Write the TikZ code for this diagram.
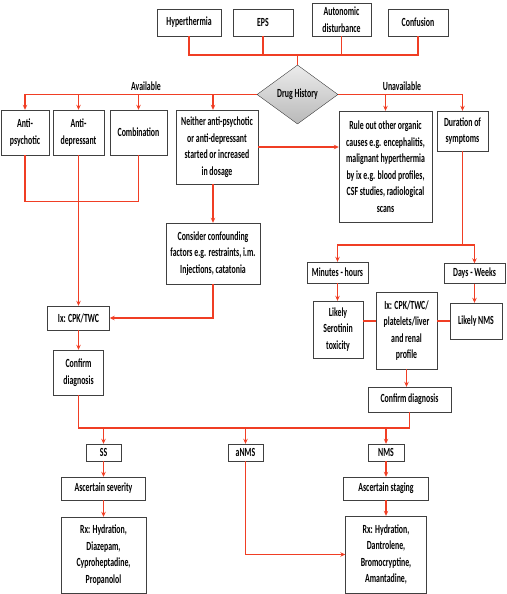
\documentclass[tikz,border=0pt]{standalone}
\usepackage{fontspec}
\setmainfont{Carlito}[FakeStretch=0.63]
\usetikzlibrary{shapes.geometric,arrows.meta}
\definecolor{flowred}{RGB}{240,62,36}

\begin{document}
\begin{tikzpicture}[x=1pt,y=-1pt,
  box/.style={draw=black!75,fill=white,align=center,inner sep=1pt,
    font=\bfseries\fontsize{12.4}{16.5}\selectfont},
  link/.style={draw=flowred,line width=1.4pt},
  arr/.style={link,-{Stealth[length=5pt,width=4.5pt]}}]
\useasboundingbox (0,0) rectangle (506,594);

% symptoms
\node [box,minimum width=64pt,minimum height=27pt] (hyper) at (189,22.5) {Hyperthermia};
\node [box,minimum width=60pt,minimum height=27pt] (eps) at (263,22.5) {EPS};
\node [box,minimum width=59pt,minimum height=33pt] (auto) at (341.5,19.5) {Autonomic\\disturbance};
\node [box,minimum width=60pt,minimum height=27pt] (conf) at (418,22.5) {Confusion};

\node [diamond,draw=black!75,top color=gray!15,bottom color=gray!55,aspect=1.37,
  minimum width=81pt,minimum height=59pt,inner sep=0pt,
  font=\bfseries\fontsize{12.4}{16.5}\selectfont] (drug) at (297.5,94.5) {Drug History};

% available
\node [box,minimum width=48pt,minimum height=45pt] (antipsy) at (25,132.5) {Anti-\\psychotic};
\node [box,minimum width=51pt,minimum height=45pt] (antidep) at (78.5,132.5) {Anti-\\depressant};
\node [box,minimum width=57pt,minimum height=45pt] (comb) at (138.5,132.5) {Combination};
\node [box,minimum width=82pt,minimum height=74pt] (neither) at (217,147) {Neither anti-psychotic\\or anti-depressant\\started or increased\\in dosage};
\node [box,minimum width=94pt,minimum height=61pt] (consider) at (213,253.5) {Consider confounding\\factors e.g. restraints, i.m.\\Injections, catatonia};
\node [box,minimum width=62pt,minimum height=24pt] (ixL) at (78.5,318) {Ix: CPK/TWC};
\node [box,minimum width=50pt,minimum height=45pt] (confL) at (78.5,372.5) {Confirm\\diagnosis};

% unavailable
\node [box,minimum width=93pt,minimum height=111pt] (ruleout) at (385.5,166.5) {Rule out other organic\\causes e.g. encephalitis,\\malignant hyperthermia\\by ix e.g. blood profiles,\\CSF studies, radiological\\scans};
\node [box,minimum width=51pt,minimum height=40pt] (duration) at (462.5,131) {Duration of\\symptoms};
\node [box,minimum width=61pt,minimum height=21pt] (minutes) at (337.5,272.5) {Minutes - hours};
\node [box,minimum width=61pt,minimum height=20pt] (days) at (474.5,273.5) {Days - Weeks};
\node [box,minimum width=50pt,minimum height=57pt] (serot) at (338,329.5) {Likely\\Serotinin\\toxicity};
\node [box,minimum width=61pt,minimum height=77pt] (ixR) at (406.5,330.5) {Ix: CPK/TWC/\\platelets/liver\\and renal\\profile};
\node [box,minimum width=52pt,minimum height=36pt] (likelynms) at (476,321) {Likely NMS};
\node [box,minimum width=83pt,minimum height=25pt] (confR) at (409.5,399.5) {Confirm diagnosis};

% outcome
\node [box,minimum width=35pt,minimum height=17pt] (ss) at (103.5,452.5) {SS};
\node [box,minimum width=35pt,minimum height=17pt] (anms) at (245.5,452.5) {aNMS};
\node [box,minimum width=36pt,minimum height=17pt] (nms) at (386,452.5) {NMS};
\node [box,minimum width=84pt,minimum height=23pt] (severity) at (103.5,488.5) {Ascertain severity};
\node [box,minimum width=85pt,minimum height=23pt] (staging) at (386,488.5) {Ascertain staging};
\node [box,minimum width=85pt,minimum height=76pt] (rxss) at (103.5,555) {Rx: Hydration,\\Diazepam,\\Cyproheptadine,\\Propanolol};
\node [box,minimum width=81pt,minimum height=77pt] (rxnms) at (386,554.5) {Rx: Hydration,\\Dantrolene,\\Bromocryptine,\\Amantadine,};

\coordinate (top) at (297.5,55);
\coordinate (split) at (462.5,245);
\coordinate (bottom) at (245.5,428);

\draw [link] (hyper.south) |- (top) -| (conf.south);
\draw [link] (eps.south) -- (eps.south |- top);
\draw [link] (auto.south) -- (auto.south |- top);
\draw [link] (top) -- (drug.north);

\draw [arr] (drug.west) -| (antipsy.north);
\draw [arr] (antidep.north |- drug.west) -- (antidep.north);
\draw [arr] (comb.north |- drug.west) -- (comb.north);
\draw [arr] (consider.north |- drug.west) -- (consider.north |- neither.north);
\draw [arr] (drug.east) -| (duration.north);
\draw [arr] (ruleout.north |- drug.east) -- (ruleout.north);
\node [font=\bfseries\fontsize{12.4}{16.5}\selectfont] (avail) at (146,86) {Available};
\node [font=\bfseries\fontsize{12.4}{16.5}\selectfont] (unavail) at (402,86) {Unavailable};

\draw [link] (antipsy.south) -- ++(0,46) -| (comb.south);
\draw [arr] (antidep.south) -- (ixL.north);
\draw [arr] (consider.north |- neither.south) -- (consider.north);
\draw [arr] (neither.east) -- (neither.east -| ruleout.west);
\draw [arr] (consider.south) |- (ixL.east);
\draw [arr] (ixL.south) -- (confL.north);

\draw [link] (duration.south) -- (split);
\draw [arr] (split) -| (minutes.north);
\draw [arr] (split) -| (days.north);
\draw [arr] (minutes.south) -- (minutes.south |- serot.north);
\draw [arr] (days.south) -- (days.south |- likelynms.north);
\draw [link] (serot.east |- likelynms.west) -- (ixR.west |- likelynms.west);
\draw [link] (ixR.east |- likelynms.west) -- (likelynms.west);
\draw [arr] (ixR.south) -- (ixR.south |- confR.north);

\draw [link] (confL.south) |- (bottom) -| (confR.south);
\draw [arr] (ss.north |- bottom) -- (ss.north);
\draw [arr] (bottom) -- (anms.north);
\draw [arr] (nms.north |- bottom) -- (nms.north);
\draw [arr] (ss.south) -- (severity.north);
\draw [arr] (nms.south) -- (staging.north);
\draw [arr] (severity.south) -- (rxss.north);
\draw [arr] (staging.south) -- (rxnms.north);
\draw [arr] (anms.south) |- (rxnms.west);
\end{tikzpicture}
\end{document}
